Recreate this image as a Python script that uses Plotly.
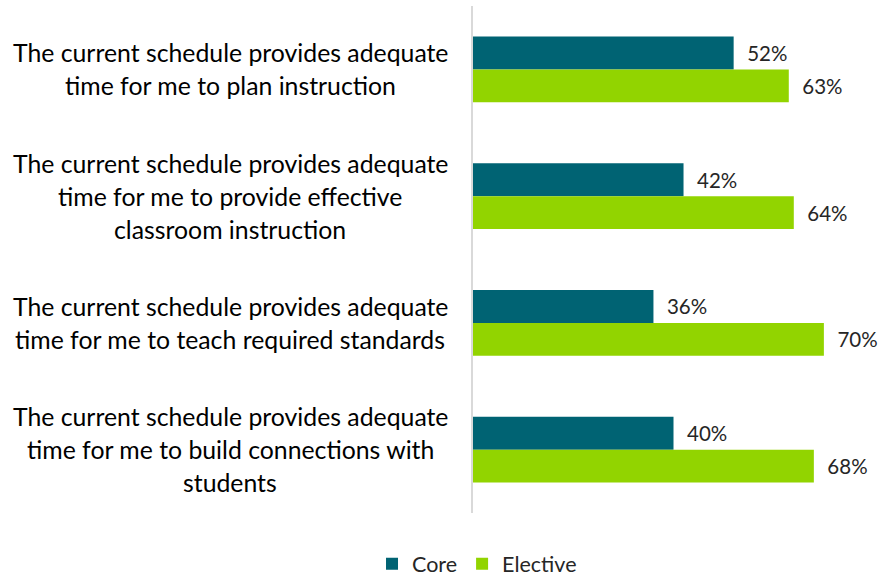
import plotly.graph_objects as go

# survey items (one line per entry in each list)
statements = [
    ["The current schedule provides adequate", "time for me to plan instruction"],
    ["The current schedule provides adequate", "time for me to provide effective", "classroom instruction"],
    ["The current schedule provides adequate", "time for me to teach required standards"],
    ["The current schedule provides adequate", "time for me to build connections with", "students"],
]
categories = ["plan", "effective", "standards", "connections"]
core = [52, 42, 36, 40]
elective = [63, 64, 70, 68]

FONT = "Lato"
CORE_COLOR = "#006373"
ELECTIVE_COLOR = "#92D400"

fig = go.Figure()
for name, vals, color in [("Core", core, CORE_COLOR), ("Elective", elective, ELECTIVE_COLOR)]:
    fig.add_trace(go.Bar(
        name=name, y=categories, x=vals, orientation="h",
        marker=dict(color=color, line=dict(width=0)),
        text=[f"\u00a0\u00a0{v}%" for v in vals],
        textposition="outside", cliponaxis=False,
        textfont=dict(family=FONT, size=20.5, color="#262626"),
        hoverinfo="skip",
    ))

# centred multi-line category labels
line_gap = 33
for cat, lines in zip(categories, statements):
    n = len(lines)
    for i, line in enumerate(lines):
        fig.add_annotation(
            x=0, xref="paper", y=cat, yref="y",
            text=line, showarrow=False, xanchor="center",
            xshift=-243,
            yshift=((n - 1) / 2 - i) * line_gap,
            font=dict(family=FONT, size=24.8, color="#000000"),
        )

fig.update_layout(
    width=884, height=577,
    margin=dict(l=473, r=10, t=6, b=64, autoexpand=False),
    paper_bgcolor="white", plot_bgcolor="white",
    barmode="group", bargap=0.48, bargroupgap=0,
    showlegend=True,
    legend=dict(orientation="h", x=0.01, xanchor="center", y=-0.1, yanchor="middle",
                font=dict(family=FONT, size=21.5, color="#262626"),
                itemwidth=30, traceorder="normal"),
    xaxis=dict(range=[0, 80], visible=False),
    yaxis=dict(autorange="reversed", showticklabels=False, showgrid=False,
               showline=True, linecolor="#d9d9d9", linewidth=2, ticks="", zeroline=False),
)

fig.write_html("out.html", config={"displayModeBar": False},
               post_script="document.body.style.margin='0';")
